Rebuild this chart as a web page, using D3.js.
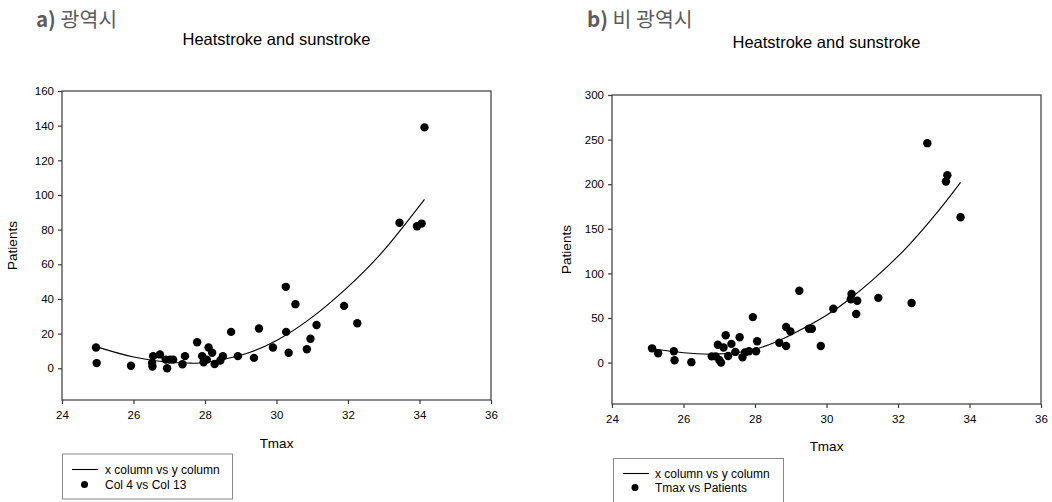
<!DOCTYPE html>
<html><head><meta charset="utf-8">
<script src="https://cdn.jsdelivr.net/npm/d3@7"></script>
<style>
body{margin:0;background:#fff;}
svg{display:block;}
text{font-family:"Liberation Sans",Arial,sans-serif;fill:#000;}
.kr{font-family:"Noto Sans CJK KR","Noto Sans",sans-serif;fill:#5c5c5c;}
</style>
</head><body>
<svg id="c" width="1052" height="502"></svg>
<script>
// ---- data ----
const panelLabels = ["a)", "b)"];
const panelNames = ["광역시", "비 광역시"];
const chartTitle = "Heatstroke and sunstroke";
const xTitle = "Tmax";
const yTitle = "Patients";
const legendLine = "x column vs y column";
const legendDots = ["Col 4 vs Col 13", "Tmax vs Patients"];

const xTicks = [24, 26, 28, 30, 32, 34, 36];
const yTicksA = [0, 20, 40, 60, 80, 100, 120, 140, 160];
const yTicksB = [0, 50, 100, 150, 200, 250, 300];
const xDomain = [24, 36];
const yDomainA = [-18.3, 160];
const yDomainB = [-46.4, 300];

// a) metropolitan cities: observed points
const tmaxA = [24.95, 24.97, 25.93, 26.52, 26.53, 26.55, 26.74, 26.9, 26.94, 27.02, 27.11, 27.37, 27.44, 27.78, 27.92, 27.96, 28.05, 28.1, 28.2, 28.27, 28.43, 28.5, 28.73, 28.92, 29.37, 29.51, 29.9, 30.26, 30.27, 30.34, 30.53, 30.85, 30.95, 31.12, 31.89, 32.26, 33.44, 33.93, 34.06, 34.14];
const patientsA = [12, 3, 1.5, 3, 1, 7, 8, 5, 0, 5, 5, 2.3, 7, 15, 7, 3.5, 5, 12, 9, 2.5, 4.5, 7, 21, 7, 6, 23, 12, 47, 21, 9, 37, 11, 17, 25, 36, 26, 84, 82, 83.5, 139];
// a) regression curve
const fitXA = [24.95, 26, 27, 27.6, 28, 29, 30, 31, 32, 33, 34.14];
const fitYA = [12.5, 6.5, 3.5, 3, 3.3, 7.5, 16, 29.5, 47, 68, 97.5];

// b) non-metropolitan: observed points
const tmaxB = [25.12, 25.29, 25.73, 25.75, 26.22, 26.79, 26.9, 26.96, 27.0, 27.05, 27.12, 27.18, 27.25, 27.34, 27.45, 27.57, 27.65, 27.72, 27.83, 27.94, 28.03, 28.06, 28.68, 28.87, 28.87, 28.99, 29.24, 29.51, 29.59, 29.84, 30.19, 30.68, 30.7, 30.86, 30.83, 31.45, 32.38, 32.82, 33.34, 33.38, 33.75];
const patientsB = [16, 10.5, 12.7, 2.6, 0.5, 7, 7, 20, 3, 0, 17, 30.6, 7.4, 21, 12, 28.5, 6, 11.5, 12.7, 51, 12.7, 24, 22.3, 40, 18.6, 35, 80.6, 38, 38, 18.6, 60.4, 71, 77, 69.4, 54.5, 72.6, 66.8, 246, 203, 210, 163];
// b) regression curve
const fitXB = [25.1, 26, 26.9, 28, 29, 30, 30.7, 31.3, 32.24, 33.17, 33.75];
const fitYB = [15.5, 11, 9.5, 15, 31, 53, 73, 93, 129, 172, 202];

// ---- layout ----
const panels = [
  {label: panelLabels[0], name: panelNames[0], hx: 36, x0: 62, x1: 491, y0: 91, y1: 400, yDom: yDomainA, yTicks: yTicksA,
   xs: tmaxA, ys: patientsA, fx: fitXA, fy: fitYA, titleY: 44.5, ytX: 17, xtY: 448,
   leg: {x: 62.5, y: 454, w: 170, h: 45, lineY: 469.5, dotY: 484.5, t1: 473.5, t2: 488.5, lx0: 72, lx1: 98, dx: 84.5, tx: 105}, dotName: legendDots[0]},
  {label: panelLabels[1], name: panelNames[1], hx: 587, x0: 612, x1: 1041, y0: 95, y1: 404, yDom: yDomainB, yTicks: yTicksB,
   xs: tmaxB, ys: patientsB, fx: fitXB, fy: fitYB, titleY: 47.5, ytX: 571, xtY: 451,
   leg: {x: 613.5, y: 458.5, w: 170, h: 50, lineY: 473.5, dotY: 487.5, t1: 477.5, t2: 491.5, lx0: 623, lx1: 649, dx: 635, tx: 655}, dotName: legendDots[1]}
];

const svg = d3.select("#c");

panels.forEach(p => {
  const g = svg.append("g");
  const x = d3.scaleLinear().domain(xDomain).range([p.x0, p.x1]);
  const y = d3.scaleLinear().domain(p.yDom).range([p.y1, p.y0]);

  // panel header
  const h = g.append("text").attr("class", "kr").attr("x", p.hx).attr("y", 27).style("font-size", "20.5px");
  h.append("tspan").style("font-weight", "bold").text(p.label + " ");
  h.append("tspan").text(p.name);

  // title
  g.append("text").attr("x", (p.x0 + p.x1) / 2).attr("y", p.titleY).attr("text-anchor", "middle")
    .style("font-size", "16.5px").text(chartTitle);

  // frame
  g.append("rect").attr("x", p.x0).attr("y", p.y0).attr("width", p.x1 - p.x0).attr("height", p.y1 - p.y0)
    .attr("fill", "none").attr("stroke", "#3a3a3a").attr("stroke-width", 1.2);

  // axes
  const xa = g.append("g").attr("transform", `translate(0,${p.y1})`)
    .call(d3.axisBottom(x).tickValues(xTicks).tickSize(4).tickPadding(4).tickFormat(d3.format("d")));
  const ya = g.append("g").attr("transform", `translate(${p.x0},0)`)
    .call(d3.axisLeft(y).tickValues(p.yTicks).tickSize(4).tickPadding(4).tickFormat(d3.format("d")));
  [xa, ya].forEach(a => {
    a.select(".domain").remove();
    a.selectAll(".tick line").attr("stroke", "#3a3a3a").attr("stroke-width", 1.2);
    a.selectAll(".tick text").style("font-size", "11.5px").style("font-family", "'Liberation Sans',Arial,sans-serif").attr("fill", "#000");
  });
  xa.selectAll(".tick text").attr("dy", "0.95em");

  // axis titles
  g.append("text").attr("x", (p.x0 + p.x1) / 2).attr("y", p.xtY).attr("text-anchor", "middle")
    .style("font-size", "13.5px").text(xTitle);
  g.append("text").attr("transform", `translate(${p.ytX},${(p.y0 + p.y1) / 2}) rotate(-90)`)
    .attr("text-anchor", "middle").style("font-size", "13.5px").text(yTitle);

  // regression curve
  const line = d3.line().x(d => x(d[0])).y(d => y(d[1])).curve(d3.curveNatural);
  g.append("path").datum(d3.zip(p.fx, p.fy)).attr("d", line)
    .attr("fill", "none").attr("stroke", "#000").attr("stroke-width", 1.1);

  // points
  g.selectAll("circle.pt").data(d3.zip(p.xs, p.ys)).join("circle").attr("class", "pt")
    .attr("cx", d => x(d[0])).attr("cy", d => y(d[1])).attr("r", 4.2).attr("fill", "#000");

  // legend
  const L = p.leg;
  g.append("rect").attr("x", L.x).attr("y", L.y).attr("width", L.w).attr("height", L.h)
    .attr("fill", "#fff").attr("stroke", "#8a8a8a").attr("stroke-width", 1);
  g.append("line").attr("x1", L.lx0).attr("x2", L.lx1).attr("y1", L.lineY).attr("y2", L.lineY)
    .attr("stroke", "#000").attr("stroke-width", 1.1);
  g.append("circle").attr("cx", L.dx).attr("cy", L.dotY).attr("r", 3.5).attr("fill", "#000");
  g.append("text").attr("x", L.tx).attr("y", L.t1).style("font-size", "12px").text(legendLine);
  g.append("text").attr("x", L.tx).attr("y", L.t2).style("font-size", "12px").text(p.dotName);
});
</script>
</body></html>
